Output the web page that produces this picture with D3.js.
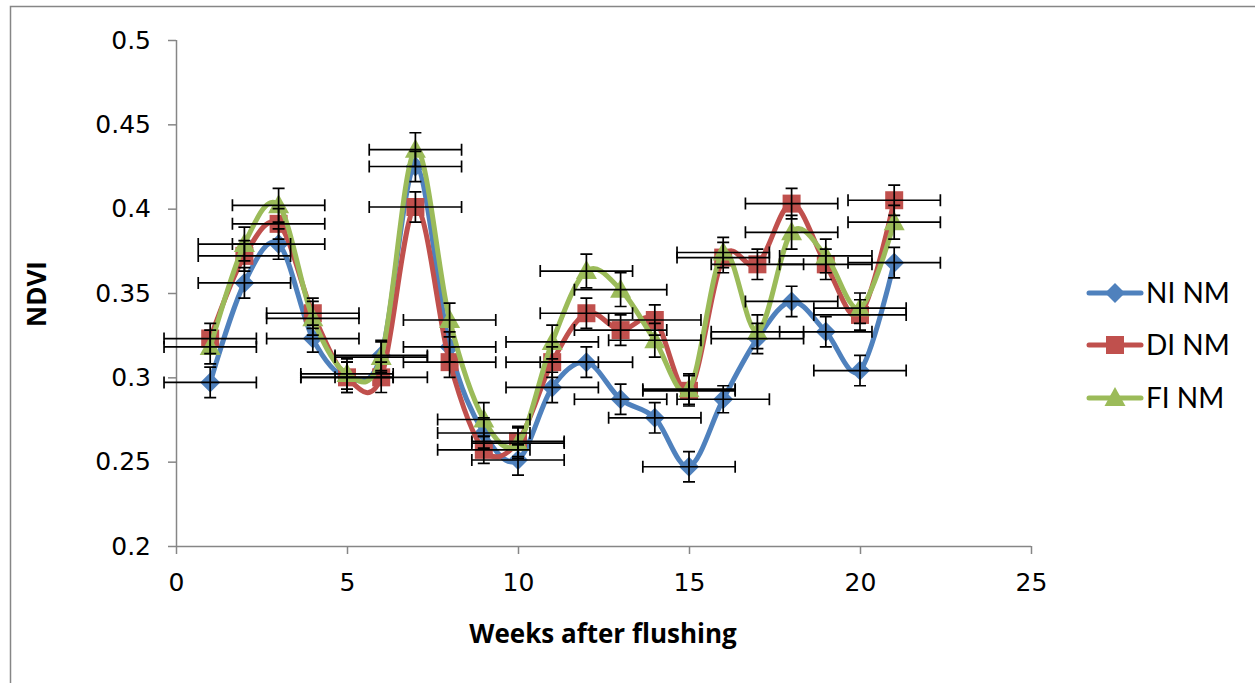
<!DOCTYPE html>
<html>
<head>
<meta charset="utf-8">
<script src="https://cdn.jsdelivr.net/npm/d3@7"></script>
<style>
  html, body { margin: 0; padding: 0; background: #fff; }
  svg { display: block; }
</style>
</head>
<body>
<svg id="chart" width="1255" height="683"></svg>
<script>
// ---- data ----
const weeks = [1,2,3,4,5,6,7,8,9,10,11,12,13,14,15,16,17,18,19,20,21];
const seriesNames = ["NI NM", "DI NM", "FI NM"];
const niValues = [0.297,0.356,0.379,0.323,0.300,0.313,0.425,0.318,0.267,0.251,0.294,0.309,0.287,0.276,0.247,0.287,0.323,0.345,0.327,0.304,0.368];
const diValues = [0.323,0.372,0.391,0.338,0.300,0.300,0.401,0.309,0.257,0.262,0.309,0.338,0.328,0.334,0.292,0.371,0.367,0.403,0.367,0.337,0.405];
const fiValues = [0.318,0.379,0.402,0.335,0.302,0.312,0.435,0.334,0.275,0.261,0.321,0.363,0.352,0.322,0.293,0.374,0.327,0.386,0.372,0.341,0.392];
const niYErr = [0.009,0.009,0.009,0.008,0.009,0.009,0.009,0.009,0.009,0.009,0.009,0.009,0.009,0.009,0.009,0.008,0.009,0.009,0.009,0.009,0.009];
const diYErr = [0.009,0.009,0.009,0.009,0.009,0.009,0.009,0.009,0.008,0.009,0.009,0.009,0.009,0.009,0.009,0.009,0.009,0.009,0.009,0.009,0.009];
const fiYErr = [0.010,0.010,0.010,0.010,0.009,0.009,0.010,0.010,0.010,0.009,0.010,0.010,0.010,0.010,0.009,0.009,0.010,0.010,0.010,0.009,0.010];
const xErr = 1.35;
const xTicks = [0,5,10,15,20,25];
const yTicks = [0.2,0.25,0.3,0.35,0.4,0.45,0.5];
const colors = ["#4F81BD", "#C0504D", "#9BBB59"];
const markers = ["diamond", "square", "triangle"];

// ---- layout ----
const svg = d3.select("#chart");
const axisColor = "#868686";
const x = d3.scaleLinear().domain([0, 25]).range([176, 1031]);
const y = d3.scaleLinear().domain([0.2, 0.5]).range([546, 40]);

// chart frame (partial border visible)
svg.append("path")
  .attr("d", "M10.5,683 L10.5,6.5 L1255,6.5")
  .attr("fill", "none").attr("stroke", axisColor).attr("stroke-width", 1.5);

// axes
const yAxis = svg.append("g").attr("transform", "translate(176,0)")
  .call(d3.axisLeft(y).tickValues(yTicks).tickSize(8).tickPadding(17)
    .tickFormat(d => String(+d.toFixed(2))));
const xAxis = svg.append("g").attr("transform", "translate(0,546)")
  .call(d3.axisBottom(x).tickValues(xTicks).tickSize(8).tickPadding(19)
    .tickFormat(d3.format("d")));
[yAxis, xAxis].forEach(g => {
  g.select(".domain").attr("stroke", axisColor).attr("stroke-width", 1.5);
  g.selectAll(".tick line").attr("stroke", axisColor).attr("stroke-width", 1.5);
  g.selectAll(".tick text").attr("fill", "#000")
    .style("font-family", "'DejaVu Sans', sans-serif").style("font-size", "25px");
});
xAxis.select(".domain").attr("d", "M176,0.5H1031");
yAxis.select(".domain").attr("d", "M0.5,40V546");

// axis titles
svg.append("text").attr("x", 603).attr("y", 643).attr("text-anchor", "middle")
  .style("font-family", "'Open Sans', sans-serif").style("font-weight", "bold")
  .style("font-size", "26px").text("Weeks after flushing");
svg.append("text").attr("transform", "translate(46,294) rotate(-90)").attr("text-anchor", "middle")
  .style("font-family", "'Open Sans', sans-serif").style("font-weight", "bold")
  .style("font-size", "26px").text("NDVI");

const allValues = [niValues, diValues, fiValues];
const allYErr = [niYErr, diYErr, fiYErr];

function markerPath(type) {
  if (type === "diamond") return "M0,-10L10,0L0,10L-10,0Z";
  if (type === "square") return "M-9,-9H9V9H-9Z";
  return "M0,-11L10.5,8L-10.5,8Z";
}

const line = d3.line().x(d => x(d.w)).y(d => y(d.v)).curve(d3.curveCardinal.tension(0));

allValues.forEach((vals, si) => {
  const pts = weeks.map((w, i) => ({ w, v: vals[i] }));
  const g = svg.append("g");
  g.append("path").datum(pts).attr("d", line)
    .attr("fill", "none").attr("stroke", colors[si]).attr("stroke-width", 5)
    .attr("stroke-linejoin", "round").attr("stroke-linecap", "round");
  g.selectAll("path.m").data(pts).join("path").attr("class", "m")
    .attr("transform", d => `translate(${x(d.w)},${y(d.v)})`)
    .attr("d", markerPath(markers[si])).attr("fill", colors[si]);
});

// error bars
const eb = svg.append("g").attr("stroke", "#000").attr("stroke-width", 1.7).attr("fill", "none");
allValues.forEach((vals, si) => {
  weeks.forEach((w, i) => {
    const cx = x(w), cy = y(vals[i]);
    const x0 = x(w - xErr), x1 = x(w + xErr);
    const yTop = y(vals[i] + allYErr[si][i]), yBot = y(vals[i] - allYErr[si][i]);
    eb.append("path").attr("d",
      `M${x0},${cy}H${x1}M${x0},${cy-6}V${cy+6}M${x1},${cy-6}V${cy+6}` +
      `M${cx},${yTop}V${yBot}M${cx-6},${yTop}H${cx+6}M${cx-6},${yBot}H${cx+6}`);
  });
});

// legend
const legY = [293, 345, 398];
seriesNames.forEach((name, si) => {
  const g = svg.append("g").attr("transform", `translate(0,${legY[si]})`);
  g.append("line").attr("x1", 1089).attr("x2", 1141).attr("y1", 0).attr("y2", 0)
    .attr("stroke", colors[si]).attr("stroke-width", 5).attr("stroke-linecap", "round");
  g.append("path").attr("transform", "translate(1115,0)").attr("d", markerPath(markers[si]))
    .attr("fill", colors[si]);
  g.append("text").attr("x", 1146).attr("y", 10)
    .style("font-family", "Lato, 'Open Sans', sans-serif").style("font-size", "28px")
    .text(name);
});
</script>
</body>
</html>
